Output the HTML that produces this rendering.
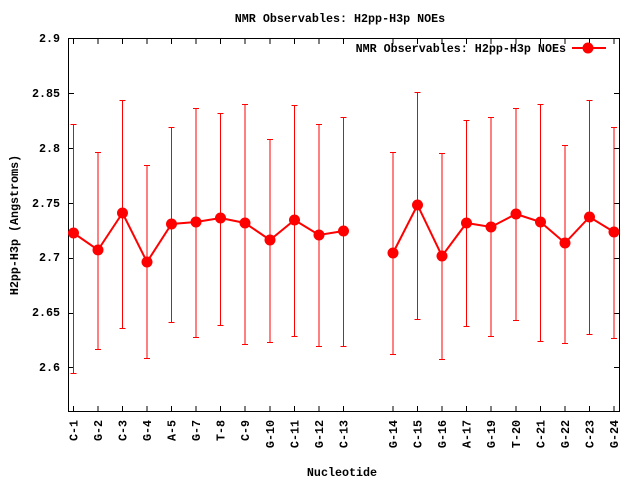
<!DOCTYPE html>
<html><head><meta charset="utf-8"><style>
body{margin:0;background:#fff}
svg{display:block}
text{font-family:"Liberation Mono",monospace;font-weight:bold;font-size:11.7px;fill:#000}
</style></head><body>
<svg width="640" height="480" xmlns="http://www.w3.org/2000/svg">
<rect width="640" height="480" fill="#fff"/>
<text x="340" y="22" text-anchor="middle">NMR Observables: H2pp-H3p NOEs</text>
<g text-anchor="end">
<text x="60" y="42">2.9</text>
<text x="60" y="97">2.85</text>
<text x="60" y="152">2.8</text>
<text x="60" y="207">2.75</text>
<text x="60" y="261">2.7</text>
<text x="60" y="316">2.65</text>
<text x="60" y="371">2.6</text>
</g>
<text transform="translate(18,225) rotate(-90)" text-anchor="middle">H2pp-H3p (Angstroms)</text>
<text x="342" y="476" text-anchor="middle">Nucleotide</text>
<g stroke="#000" stroke-width="1" fill="none">
<rect x="68.5" y="38.5" width="551" height="373"/>
<path d="M68 93.5h6M68 148.5h6M68 203.5h6M68 258.5h6M68 313.5h6M68 367.5h6M620 93.5h-6M620 148.5h-6M620 203.5h-6M620 258.5h-6M620 313.5h-6M620 367.5h-6"/>
<path d="M73.5 412v-6M98 412v-6M122.5 412v-6M147 412v-6M171.5 412v-6M196 412v-6M220.5 412v-6M245 412v-6M270 412v-6M294.5 412v-6M319 412v-6M343.5 412v-6M393 412v-6M417.5 412v-6M442 412v-6M466.5 412v-6M491 412v-6M516 412v-6M540.5 412v-6M565 412v-6M589.5 412v-6M614 412v-6
M73.5 38v6M98 38v6M122.5 38v6M147 38v6M171.5 38v6M196 38v6M220.5 38v6M245 38v6M270 38v6M294.5 38v6M319 38v6M343.5 38v6M393 38v6M417.5 38v6M442 38v6M466.5 38v6M491 38v6M516 38v6M540.5 38v6M565 38v6M589.5 38v6M614 38v6"/>
</g>
<g stroke="#f00" stroke-width="1" fill="none">
<path d="M73.5 124V373M70.5 124.5h6M70.5 373.5h6
M98 152V349M95 152.5h6M95 349.5h6
M122.5 100V328M119.5 100.5h6M119.5 328.5h6
M147 165V358M144 165.5h6M144 358.5h6
M171.5 127V322M168.5 127.5h6M168.5 322.5h6
M196 108V337M193 108.5h6M193 337.5h6
M220.5 113V325M217.5 113.5h6M217.5 325.5h6
M245 104V344M242 104.5h6M242 344.5h6
M270 139V342M267 139.5h6M267 342.5h6
M294.5 105V336M291.5 105.5h6M291.5 336.5h6
M319 124V346M316 124.5h6M316 346.5h6
M343.5 117V346M340.5 117.5h6M340.5 346.5h6
M393 152V354M390 152.5h6M390 354.5h6
M417.5 92V319M414.5 92.5h6M414.5 319.5h6
M442 153V359M439 153.5h6M439 359.5h6
M466.5 120V326M463.5 120.5h6M463.5 326.5h6
M491 117V336M488 117.5h6M488 336.5h6
M516 108V320M513 108.5h6M513 320.5h6
M540.5 104V341M537.5 104.5h6M537.5 341.5h6
M565 145V343M562 145.5h6M562 343.5h6
M589.5 100V334M586.5 100.5h6M586.5 334.5h6
M614 127V338M611 127.5h6M611 338.5h6"/>
</g>
<g stroke="#f00" stroke-width="2" fill="none">
<path d="M73.5 233L98 250L122.5 213L147 262L171.5 224L196 222L220.5 218L245 223L270 240L294.5 220L319 235L343.5 231"/>
<path d="M393 253L417.5 205L442 256L466.5 223L491 227L516 214L540.5 222L565 243L589.5 217L614 232"/>
</g>
<g fill="#f00">
<circle cx="73.5" cy="233" r="5.5"/><circle cx="98" cy="250" r="5.5"/><circle cx="122.5" cy="213" r="5.5"/><circle cx="147" cy="262" r="5.5"/><circle cx="171.5" cy="224" r="5.5"/><circle cx="196" cy="222" r="5.5"/><circle cx="220.5" cy="218" r="5.5"/><circle cx="245" cy="223" r="5.5"/><circle cx="270" cy="240" r="5.5"/><circle cx="294.5" cy="220" r="5.5"/><circle cx="319" cy="235" r="5.5"/><circle cx="343.5" cy="231" r="5.5"/>
<circle cx="393" cy="253" r="5.5"/><circle cx="417.5" cy="205" r="5.5"/><circle cx="442" cy="256" r="5.5"/><circle cx="466.5" cy="223" r="5.5"/><circle cx="491" cy="227" r="5.5"/><circle cx="516" cy="214" r="5.5"/><circle cx="540.5" cy="222" r="5.5"/><circle cx="565" cy="243" r="5.5"/><circle cx="589.5" cy="217" r="5.5"/><circle cx="614" cy="232" r="5.5"/>
</g>
<g text-anchor="end">
<text transform="translate(77.5,420) rotate(-90)">C-1</text>
<text transform="translate(102,420) rotate(-90)">G-2</text>
<text transform="translate(126.5,420) rotate(-90)">C-3</text>
<text transform="translate(151,420) rotate(-90)">G-4</text>
<text transform="translate(175.5,420) rotate(-90)">A-5</text>
<text transform="translate(200,420) rotate(-90)">G-7</text>
<text transform="translate(224.5,420) rotate(-90)">T-8</text>
<text transform="translate(249,420) rotate(-90)">C-9</text>
<text transform="translate(274,420) rotate(-90)">G-10</text>
<text transform="translate(298.5,420) rotate(-90)">C-11</text>
<text transform="translate(323,420) rotate(-90)">G-12</text>
<text transform="translate(347.5,420) rotate(-90)">C-13</text>
<text transform="translate(397,420) rotate(-90)">G-14</text>
<text transform="translate(421.5,420) rotate(-90)">C-15</text>
<text transform="translate(446,420) rotate(-90)">G-16</text>
<text transform="translate(470.5,420) rotate(-90)">A-17</text>
<text transform="translate(495,420) rotate(-90)">G-19</text>
<text transform="translate(520,420) rotate(-90)">T-20</text>
<text transform="translate(544.5,420) rotate(-90)">C-21</text>
<text transform="translate(569,420) rotate(-90)">G-22</text>
<text transform="translate(593.5,420) rotate(-90)">C-23</text>
<text transform="translate(618,420) rotate(-90)">G-24</text>
</g>
<text x="566" y="52" text-anchor="end">NMR Observables: H2pp-H3p NOEs</text>
<line x1="572" y1="48" x2="606" y2="48" stroke="#f00" stroke-width="2"/>
<circle cx="588" cy="48" r="5.5" fill="#f00"/>
</svg>
</body></html>
